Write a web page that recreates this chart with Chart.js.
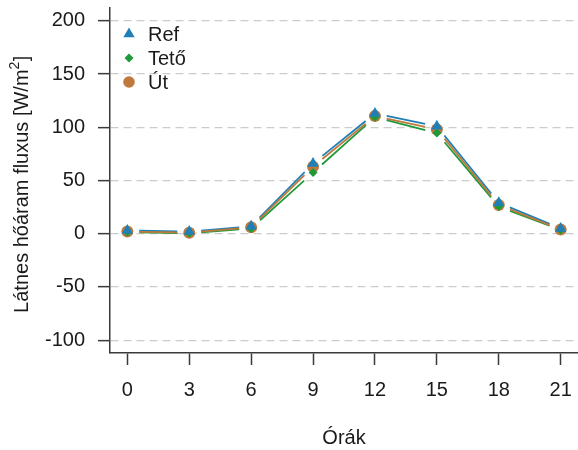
<!DOCTYPE html>
<html>
<head>
<meta charset="utf-8">
<script src="https://cdn.jsdelivr.net/npm/chart.js@4/dist/chart.umd.min.js"></script>
<style>
  html, body { margin: 0; padding: 0; background: #ffffff; }
  #wrap { width: 578px; height: 450px; }
</style>
</head>
<body>
<div id="wrap"><canvas id="c" width="578" height="450"></canvas></div>
<script>
// Sensible heat flux by hour of day for three surfaces
const hours = [0, 3, 6, 9, 12, 15, 18, 21];
const refFlux = [3, 2, 7, 66, 113, 101, 29, 5];
const tetoFlux = [1.5, 0.5, 5, 57.5, 109.5, 94.5, 25.5, 3.5];
const utFlux = [2, 1, 6, 63, 110.5, 98, 27, 4];

const seriesNames = ['Ref', 'Tető', 'Út'];
const xTickValues = [0, 3, 6, 9, 12, 15, 18, 21];
const yTickValues = [-100, -50, 0, 50, 100, 150, 200];

const FONT = 'Liberation Sans, Arial, Helvetica, sans-serif';
const FONT_SIZE = 20;
const TEXT = '#1a1a1a';
const AXIS = '#3a3a3a';
const GAP = 12; // gap left around each point on the connecting lines

const toPoints = vals => hours.map((h, i) => ({ x: h, y: vals[i] }));

// Keep the plot area fixed: no extra room for overhanging tick labels
const noOverhang = s => {
  s.paddingTop = 0; s.paddingBottom = 0; s.paddingLeft = 0; s.paddingRight = 0;
};

// Lines between successive points, stopping short of each marker
const gappedLines = {
  id: 'gappedLines',
  beforeDatasetsDraw(chart) {
    const ctx = chart.ctx;
    chart.data.datasets.forEach((ds, i) => {
      const pts = chart.getDatasetMeta(i).data;
      ctx.save();
      ctx.strokeStyle = ds.borderColor;
      ctx.lineWidth = 1.8;
      ctx.lineCap = 'butt';
      for (let k = 0; k < pts.length - 1; k++) {
        const a = pts[k], b = pts[k + 1];
        const dx = b.x - a.x, dy = b.y - a.y;
        const len = Math.hypot(dx, dy);
        if (len <= 2 * GAP) continue;
        const ux = dx / len, uy = dy / len;
        ctx.beginPath();
        ctx.moveTo(a.x + ux * GAP, a.y + uy * GAP);
        ctx.lineTo(b.x - ux * GAP, b.y - uy * GAP);
        ctx.stroke();
      }
      ctx.restore();
    });
  }
};

// Legend in the upper-left corner of the plot area
const cornerLegend = {
  id: 'cornerLegend',
  afterDatasetsDraw(chart) {
    const ctx = chart.ctx;
    const area = chart.chartArea;
    chart.data.datasets.forEach((ds, i) => {
      const x = area.left + 19;
      const y = area.top + 26 + i * 24;
      ctx.save();
      ctx.fillStyle = ds.backgroundColor;
      ctx.strokeStyle = ds.backgroundColor;
      Chart.helpers.drawPoint(ctx, {
        pointStyle: ds.pointStyle,
        radius: ds.legendRadius,
        rotation: 0,
        borderWidth: 0
      }, x, y);
      ctx.fillStyle = TEXT;
      ctx.font = FONT_SIZE + 'px ' + FONT;
      ctx.textAlign = 'left';
      ctx.textBaseline = 'middle';
      ctx.fillText(ds.label, x + 19, y + 1);
      ctx.restore();
    });
  }
};

// Vertical axis title with a raised exponent in the unit
const yAxisTitle = {
  id: 'yAxisTitle',
  afterDraw(chart) {
    const ctx = chart.ctx;
    const area = chart.chartArea;
    const main = 'Látnes hőáram fluxus [W/m';
    const sup = '2';
    const tail = ']';
    const mainFont = FONT_SIZE + 'px ' + FONT;
    const supFont = Math.round(FONT_SIZE * 0.7) + 'px ' + FONT;
    ctx.save();
    ctx.translate(22, (area.top + area.bottom) / 2 + 4);
    ctx.rotate(-Math.PI / 2);
    ctx.fillStyle = TEXT;
    ctx.textAlign = 'left';
    ctx.textBaseline = 'middle';
    ctx.font = mainFont;
    const w1 = ctx.measureText(main).width;
    const w3 = ctx.measureText(tail).width;
    ctx.font = supFont;
    const w2 = ctx.measureText(sup).width;
    let x = -(w1 + w2 + w3) / 2;
    ctx.font = mainFont;
    ctx.fillText(main, x, 0);
    ctx.font = supFont;
    ctx.fillText(sup, x + w1, -7);
    ctx.font = mainFont;
    ctx.fillText(tail, x + w1 + w2 + 0.5, 0);
    ctx.restore();
  }
};

const makeSet = (label, vals, color, style, radius, legendRadius) => ({
  label,
  data: toPoints(vals),
  borderColor: color,
  backgroundColor: color,
  pointStyle: style,
  pointRadius: radius,
  pointBorderWidth: 0,
  pointBackgroundColor: color,
  showLine: false,
  legendRadius
});

new Chart(document.getElementById('c'), {
  type: 'line',
  data: {
    datasets: [
      makeSet(seriesNames[0], refFlux, '#1f7fb6', 'triangle', 6.5, 6.5),
      makeSet(seriesNames[1], tetoFlux, '#1f9a3a', 'rectRot', 4.5, 4.5),
      makeSet(seriesNames[2], utFlux, '#bd7a3c', 'circle', 6, 5.8)
    ]
  },
  plugins: [gappedLines, cornerLegend, yAxisTitle],
  options: {
    responsive: false,
    animation: false,
    devicePixelRatio: 1,
    layout: { autoPadding: false, padding: { top: 8, right: 0, left: 0, bottom: 0 } },
    plugins: {
      legend: { display: false },
      tooltip: { enabled: false }
    },
    scales: {
      x: {
        type: 'linear',
        min: -0.84,
        max: 21.84,
        afterBuildTicks: s => { s.ticks = xTickValues.map(v => ({ value: v })); },
        afterFit: s => { s.height = 97; noOverhang(s); },
        grid: {
          drawOnChartArea: false,
          drawTicks: true,
          tickLength: 12,
          tickColor: AXIS,
          tickWidth: 1.5,
          tickBorderDash: []
        },
        border: { display: true, color: AXIS, width: 1.5 },
        ticks: {
          color: TEXT,
          font: { family: FONT, size: FONT_SIZE },
          padding: 13,
          maxRotation: 0,
          autoSkip: false,
          callback: v => String(v)
        },
        title: {
          display: true,
          text: 'Órák',
          color: TEXT,
          font: { family: FONT, size: FONT_SIZE },
          padding: { top: 0, bottom: 0 }
        }
      },
      y: {
        type: 'linear',
        min: -112,
        max: 212,
        afterBuildTicks: s => { s.ticks = yTickValues.map(v => ({ value: v })); },
        afterFit: s => { s.width = 110; noOverhang(s); },
        grid: {
          color: '#cccccc',
          lineWidth: 1.3,
          drawTicks: true,
          tickLength: 12,
          tickColor: AXIS,
          tickWidth: 1.5,
          tickBorderDash: []
        },
        border: { display: true, color: AXIS, width: 1.5, dash: [8, 5] },
        ticks: {
          color: TEXT,
          font: { family: FONT, size: FONT_SIZE },
          padding: 13,
          autoSkip: false,
          callback: v => String(v)
        },
        title: { display: false }
      }
    }
  }
});
</script>
</body>
</html>
